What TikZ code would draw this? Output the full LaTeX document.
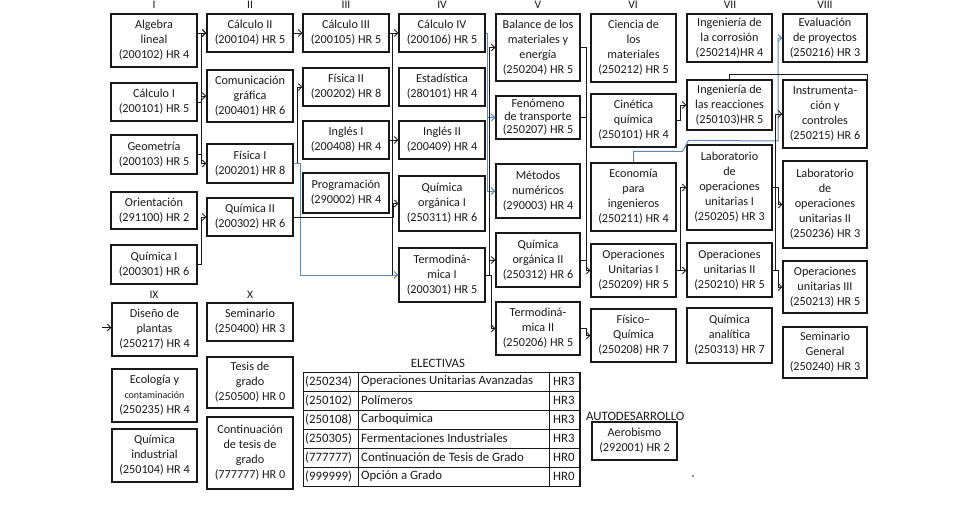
\documentclass[tikz,border=0pt]{standalone}
\usepackage{fontspec}
\setmainfont{Carlito}
\usetikzlibrary{arrows.meta}
\definecolor{lnblue}{RGB}{95,135,180}
\definecolor{ink}{RGB}{25,25,25}
\newcommand\mybox[6]{\node[box,minimum width={(#4-#2)*1pt},minimum height={(#5-#3)*1pt}] (#1) at ({(#2+#4)/2},{(#3+#5)/2}) {#6};}
\newcommand\myrow[4]{%
  \node[cell,anchor=west] (#1a) at (305,#2) {#3};%
  \node[cell,anchor=west] (#1b) at (361,#2) {#4};}
\begin{document}
\begin{tikzpicture}[x=1pt,y=-1pt,
  box/.style={draw=ink,line width=1.2pt,align=center,inner sep=0pt,text=ink,font=\fontsize{12.2}{15}\selectfont},
  ln/.style={draw=ink,line width=0.9pt},
  arr/.style={ln,-{Straight Barb[length=3.5pt,width=7pt]}},
  barr/.style={draw=lnblue,line width=1pt,-{Straight Barb[length=3.5pt,width=7pt]}},
  hdr/.style={text=ink,font=\fontsize{11.5}{13}\selectfont,inner sep=0pt},
  cell/.style={text=ink,font=\fontsize{12.8}{14}\selectfont,inner sep=0pt}]
\useasboundingbox (0,0) rectangle (965,506);
% headers
\node[hdr] (hI) at (154,5) {I};
\node[hdr] (hII) at (250,5) {II};
\node[hdr] (hIII) at (346,5) {III};
\node[hdr] (hIV) at (442,5) {IV};
\node[hdr] (hV) at (538,5) {V};
\node[hdr] (hVI) at (633,5) {VI};
\node[hdr] (hVII) at (730,5) {VII};
\node[hdr] (hVIII) at (825,5) {VIII};
\node[hdr] (hIX) at (154,295) {IX};
\node[hdr] (hX) at (250,295) {X};
% column I
\mybox{a1}{111}{14}{197}{67}{Algebra\\lineal\\(200102) HR 4}
\mybox{a2}{111}{83}{197}{121}{Cálculo I\\(200101) HR 5}
\mybox{a3}{111}{135}{197}{174}{Geometría\\(200103) HR 5}
\mybox{a4}{111}{192}{197}{229}{Orientación\\(291100) HR 2}
\mybox{a5}{111}{245}{197}{284}{Química I\\(200301) HR 6}
% column II
\mybox{b1}{207}{14}{293}{52}{Cálculo II\\(200104) HR 5}
\mybox{b2}{207}{70}{293}{122}{Comunicación\\gráfica\\(200401) HR 6}
\mybox{b3}{207}{144}{293}{183}{Física I\\(200201) HR 8}
\mybox{b4}{207}{198}{293}{236}{Química II\\(200302) HR 6}
% column III
\mybox{c1}{303}{14}{389}{52}{Cálculo III\\(200105) HR 5}
\mybox{c2}{303}{68}{389}{106}{Física II\\(200202) HR 8}
\mybox{c3}{303}{121}{389}{159}{Inglés I\\(200408) HR 4}
\mybox{c4}{303}{173}{389}{213}{Programación\\(290002) HR 4}
% column IV
\mybox{d1}{399}{14}{485}{52}{Cálculo IV\\(200106) HR 5}
\mybox{d2}{399}{68}{485}{106}{Estadística\\(280101) HR 4}
\mybox{d3}{399}{121}{485}{159}{Inglés II\\(200409) HR 4}
\mybox{d4}{399}{176}{485}{231}{Química\\orgánica I\\(250311) HR 6}
\mybox{d5}{399}{248}{485}{302}{Termodiná-\\mica I\\(200301) HR 5}
% column V
\mybox{e1}{496}{14}{580}{81}{Balance de los\\materiales y\\energía\\(250204) HR 5}
\node[box,font=\fontsize{12.2}{13}\selectfont,minimum width=84pt,minimum height=43pt] (e2) at (538,117.5) {Fenómeno\\de transporte\\(250207) HR 5};
\mybox{e3}{496}{164}{580}{218}{Métodos\\numéricos\\(290003) HR 4}
\mybox{e4}{496}{233}{580}{287}{Química\\orgánica II\\(250312) HR 6}
\mybox{e5}{496}{302}{580}{355}{Termodiná-\\mica II\\(250206) HR 5}
% column VI
\mybox{f1}{591}{14}{676}{82}{Ciencia de\\los\\materiales\\(250212) HR 5}
\mybox{f2}{591}{94}{676}{147}{Cinética\\química\\(250101) HR 4}
\mybox{f3}{591}{163}{676}{231}{Economía\\para\\ingenieros\\(250211) HR 4}
\mybox{f4}{591}{244}{676}{297}{Operaciones\\Unitarias I\\(250209) HR 5}
\mybox{f5}{591}{309}{676}{362}{Físico–\\Química\\(250208) HR 7}
% column VII
\mybox{g1}{687}{14}{772}{62}{Ingeniería de\\la corrosión\\(250214)HR 4}
\mybox{g2}{687}{80}{772}{130}{Ingeniería de\\las reacciones\\(250103)HR 5}
\mybox{g3}{687}{145}{772}{230}{Laboratorio\\de\\operaciones\\unitarias I\\(250205) HR 3}
\mybox{g4}{687}{243}{772}{297}{Operaciones\\unitarias II\\(250210) HR 5}
\mybox{g5}{687}{308}{772}{363}{Química\\analítica\\(250313) HR 7}
% column VIII
\mybox{h1}{783}{14}{867}{62}{Evaluación\\de proyectos\\(250216) HR 3}
\mybox{h2}{783}{80}{867}{148}{Instrumenta-\\ción y\\controles\\(250215) HR 6}
\mybox{h3}{783}{161}{867}{248}{Laboratorio\\de\\operaciones\\unitarias II\\(250236) HR 3}
\mybox{h4}{783}{261}{867}{313}{Operaciones\\unitarias III\\(250213) HR 5}
\mybox{h5}{783}{327}{867}{378}{Seminario\\General\\(250240) HR 3}
% column IX
\mybox{i1}{112}{303}{197}{356}{Diseño de\\plantas\\(250217) HR 4}
\mybox{i2}{112}{369}{197}{422}{Ecología y\\{\fontsize{10}{15}\selectfont contaminación}\\(250235) HR 4}
\mybox{i3}{112}{429}{197}{482}{Química\\industrial\\(250104) HR 4}
% column X
\mybox{j1}{207}{303}{293}{341}{Seminario\\(250400) HR 3}
\mybox{j2}{207}{357}{293}{408}{Tesis de\\grado\\(250500) HR 0}
\mybox{j3}{207}{417}{293}{489}{Continuación\\de tesis de\\grado\\(777777) HR 0}
% autodesarrollo
\node[cell,anchor=west] (aut) at (586,416) {AUTODESARROLLO};
\mybox{k1}{592}{422}{677}{460}{Aerobismo\\(292001) HR 2}
\fill[ink] (693,476) circle (0.8);
% electivas
\node[cell] (elt) at (438,363) {ELECTIVAS};
\draw[ln] (303,372) rectangle (580,486);
\draw[line width=1.6pt,ink] (580,372) -- (580,486);
\foreach \yy in {391,410,429,448,467} \draw[ln] (303,\yy) -- (580,\yy);
\draw[ln] (358,372) -- (358,486);
\draw[ln] (549,372) -- (549,486);
\myrow{r1}{381.5}{(250234)}{Operaciones Unitarias Avanzadas}
\myrow{r2}{400.5}{(250102)}{Polímeros}
\myrow{r3}{419.5}{(250108)}{Carboquimica}
\myrow{r4}{438.5}{(250305)}{Fermentaciones Industriales}
\myrow{r5}{457.5}{(777777)}{Continuación de Tesis de Grado}
\myrow{r6}{476.5}{(999999)}{Opción a Grado}
\foreach \yy/\nm/\tx in {381.5/r1c/HR3,400.5/r2c/HR3,419.5/r3c/HR3,438.5/r4c/HR3,457.5/r5c/HR0,476.5/r6c/HR0}
  \node[cell,anchor=west] (\nm) at (553,\yy) {\tx};
% connectors I -> II
\draw[arr] (a1.east |- b1.west) -- (b1.west);
\draw[ln] (a2.east) -- ++(4,0);
\draw[arr] (a3.east) -- ++(4,0) |- (b1.west);
\draw[arr] (a3.east) -- ++(4,0) |- (b2.west);
\draw[arr] (a3.east) -- ++(4,0) |- (b3.west);
\draw[arr] (a5.east) -- ++(4,0) |- (b4.west);
% II -> III
\draw[arr] (b1.east) -- (c1.west);
\draw[arr] (b3.east) -- ++(4,0) |- (c2.west);
\draw[barr] (b3.east) -- ++(7,0) |- (d5.west);
\draw[arr] (b4.east) -- ++(100,0) |- (d4.west);
% III -> IV
\draw[arr] (c1.east) -- (d1.west);
\draw[ln] (c1.east) -- ++(3,0) coordinate (t3) -- (t3 |- d5.west);
\draw[arr] (c3.east) -- (d3.west);
% IV -> V
\draw[barr] (d1.east) -- ++(2,0) |- (e2.west);
\draw[barr] (d1.east) -- ++(2,0) |- (e3.west);
\draw[arr] (d5.east) -- ++(4,0) |- (e1.west);
\draw[arr] (d5.east) -- ++(4,0) |- (e4.west);
\draw[arr] (d5.east) -- ++(6,0) |- (e5.west);
% V -> VI
\draw[arr] (e1.east) -- ++(6,0) |- (f4.west);
\draw[ln] (e2.east) -- ++(6,0);
\draw[ln] (e4.east) -- ++(6,0);
\draw[arr] (e5.east) -- ++(6,0) |- (f5.west);
\draw[barr] (f3.north) -- ++(0,-11) -- ++(49,0) -- ++(6,-11) -- (778,141) |- (h1.west);
% VI -> VII
\draw[arr] (f2.east) -- ++(4,0) |- (g2.west);
\draw[arr] (f4.east) -- ++(4,0) |- (g3.west);
\draw[arr] (f4.east) -- (f4.east -| g4.west);
% VII -> VIII
\draw[ln] (g2.north) -- ++(0,-5) -| (h2.north east);
\draw[arr] (g4.east) -- ++(3,0) |- (h2.west);
\draw[arr] (g3.east) -- ++(6,0) |- (h3.west);
\draw[arr] (g4.east) -- ++(6,0) |- (h4.west);
% IX
\draw[arr] (i1.west) ++(-9,-2) -- ++(9,0);
\end{tikzpicture}
\end{document}
